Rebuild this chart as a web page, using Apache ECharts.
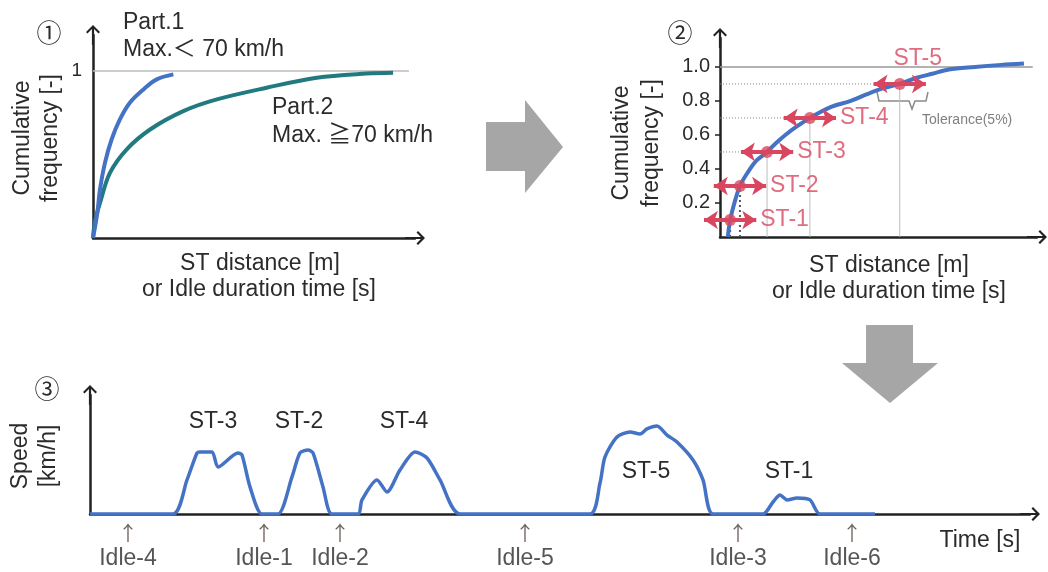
<!DOCTYPE html>
<html>
<head>
<meta charset="utf-8">
<script src="https://cdn.jsdelivr.net/npm/echarts@6/dist/echarts.min.js"></script>
<style>
html, body { margin: 0; padding: 0; background: #fff; }
#main { width: 1048px; height: 572px; }
</style>
</head>
<body>
<div id="main"></div>
<script>
// panel 1 : cumulative curves of the two parts
var part1Dist = [0, 1.3, 2.1, 3.6, 5.6, 8.1, 11.1, 15.2, 19.2, 24.2];
var part1Freq = [0, 0.15, 0.29, 0.45, 0.59, 0.71, 0.81, 0.89, 0.95, 0.98];
var part2Dist = [0, 0.6, 2.1, 5.1, 10.1, 17.2, 27.2, 37.3, 52.3, 67.4, 82.4, 90.4];
var part2Freq = [0, 0.1, 0.21, 0.39, 0.53, 0.65, 0.76, 0.83, 0.9, 0.96, 0.985, 0.99];

// panel 2 : cumulative curve and the picked ST samples
var cdfDist = [2.4, 2.7, 3.1, 4.4, 6.1, 8.5, 11.2, 14.4, 17, 20, 23.5, 27.5, 34, 40, 45, 50, 55, 60, 65, 70, 78, 86, 93];
var cdfFreq = [0, 0.05, 0.1, 0.2, 0.3, 0.38, 0.45, 0.5, 0.55, 0.6, 0.65, 0.7, 0.765, 0.8, 0.84, 0.875, 0.9, 0.935, 0.96, 0.985, 1.0, 1.012, 1.02];
var stNames = ['ST-1', 'ST-2', 'ST-3', 'ST-4', 'ST-5'];
var stDist = [3.1, 6.1, 14.4, 27.5, 55];
var stFreq = [0.1, 0.3, 0.5, 0.7, 0.9];
var tolerance = 8;
var freqTicks = [0.2, 0.4, 0.6, 0.8, 1.0];

// panel 3 : speed profile
var speedTime = [0, 16.6, 19.4, 21.4, 22, 24.4, 25.6, 29.6, 30.4, 32, 34.4,
    37.6, 40.4, 42, 43.6, 44.6, 46.6, 48.4,
    53.6, 54.4, 57.4, 59.4, 62, 65, 67.4, 70, 74,
    100, 102, 103, 105.4, 108, 110, 111.4, 113.4, 115.4, 117.4, 120.6, 122.6, 124.6,
    134.6, 136.6, 138, 139.4, 141.4, 144, 146, 157];
var speedKmh = [0, 0, 26.4, 47.3, 48.1, 48.1, 36.4, 47.3, 45.7, 21, 0,
    0, 28.7, 47.3, 49.6, 47.3, 21, 0,
    0, 10.9, 26.4, 17.1, 34.1, 48.1, 43.4, 26.4, 0,
    0, 24, 44.2, 59.7, 63.6, 62, 65.9, 68.2, 61.2, 55.8, 41.9, 26.4, 0,
    0, 9.3, 14.7, 10.9, 12.4, 10.9, 0, 0];
var idleNames = ['Idle-4', 'Idle-1', 'Idle-2', 'Idle-5', 'Idle-3', 'Idle-6'];
var idleTime = [7.6, 34.8, 50, 87, 129.6, 152.4];

var FONT = '"Liberation Sans", Arial, "Noto Sans CJK JP", sans-serif';
var CJK = '"Noto Sans CJK JP", sans-serif';
var BLUE = '#4472c4';
var TEAL = '#217a80';
var RED = '#d8475f';
var TXT = '#2b2b2b';
var FS = 23;
var ARROW = 'path://M7,0 L14,7 L12.5,8.5 L8.1,4.1 L8.1,20 L5.9,20 L5.9,4.1 L1.5,8.5 L0,7 Z';

function zip(xs, ys) {
    return xs.map(function (x, i) { return [x, ys[i]]; });
}

function axLine() {
    return {show: true, onZero: false, symbol: ['none', ARROW], symbolSize: [14, 20],
        lineStyle: {color: '#222', width: 2.5}};
}

function plainAxis(idx, min, max) {
    return {type: 'value', gridIndex: idx, min: min, max: max,
        axisLine: axLine(), axisTick: {show: false}, axisLabel: {show: false},
        splitLine: {show: false}};
}

function txt(text, x, y, opt) {
    opt = opt || {};
    return {type: 'text', x: x, y: y, rotation: opt.rot || 0, silent: true,
        style: {text: text, fill: opt.color || TXT, fontSize: opt.size || FS,
            fontFamily: opt.font || FONT, align: opt.align || 'center',
            verticalAlign: 'middle', lineHeight: opt.lh || 27}};
}

var mychart = echarts.init(document.getElementById('main'));

var yAxis1 = plainAxis(0, 0, 1.216);
yAxis1.axisLabel = {show: true, customValues: [1], fontSize: 19, color: TXT,
    fontFamily: FONT, margin: 11, padding: [0, 0, 12, 0]};

var yAxis2 = plainAxis(1, 0, 1.17);
yAxis2.axisLabel = {show: true, customValues: freqTicks, fontSize: 20, color: TXT,
    fontFamily: FONT, margin: 10, formatter: function (v) { return v.toFixed(1); }};
yAxis2.axisTick = {show: true, customValues: freqTicks, length: 5,
    lineStyle: {color: '#222', width: 1.5}};

var series = [];

// panel 1
series.push({type: 'line', xAxisIndex: 0, yAxisIndex: 0, symbol: 'none', silent: true,
    data: [[0, 1], [95.2, 1]], lineStyle: {color: '#bdbdbd', width: 1.5}});
series.push({type: 'line', xAxisIndex: 0, yAxisIndex: 0, symbol: 'none', smooth: 0.35,
    data: zip(part2Dist, part2Freq), lineStyle: {color: TEAL, width: 4}});
series.push({type: 'line', xAxisIndex: 0, yAxisIndex: 0, symbol: 'none', smooth: 0.35,
    data: zip(part1Dist, part1Freq), lineStyle: {color: BLUE, width: 4}});

// panel 2 helper lines
series.push({type: 'line', xAxisIndex: 1, yAxisIndex: 1, symbol: 'none', silent: true,
    data: [[0, 1], [95.7, 1]], lineStyle: {color: '#999', width: 1.5}});
stDist.forEach(function (d, i) {
    var dotted = i < 2;
    series.push({type: 'line', xAxisIndex: 1, yAxisIndex: 1, symbol: 'none', silent: true,
        data: [[d, 0], [d, stFreq[i]]],
        lineStyle: dotted ? {color: '#555', width: 2, type: [2, 3]} : {color: '#bdbdbd', width: 1}});
    if (d - tolerance > 0) {
        series.push({type: 'line', xAxisIndex: 1, yAxisIndex: 1, symbol: 'none', silent: true,
            data: [[0, stFreq[i]], [d - tolerance, stFreq[i]]],
            lineStyle: {color: '#888', width: 1, type: [1, 2]}});
    }
});
series.push({type: 'line', xAxisIndex: 1, yAxisIndex: 1, symbol: 'none', smooth: 0.35,
    data: zip(cdfDist, cdfFreq), lineStyle: {color: BLUE, width: 4}});
// tolerance arrows
series.push({type: 'lines', coordinateSystem: 'cartesian2d', xAxisIndex: 1, yAxisIndex: 1,
    clip: false, silent: true, z: 4, symbol: ['arrow', 'arrow'], symbolSize: 14,
    lineStyle: {color: RED, width: 4, opacity: 1},
    data: stDist.map(function (d, i) {
        return {coords: [[d - tolerance, stFreq[i]], [d + tolerance, stFreq[i]]]};
    })});
series.push({type: 'scatter', xAxisIndex: 1, yAxisIndex: 1, symbolSize: 12, z: 5,
    itemStyle: {color: RED}, data: zip(stDist, stFreq)});
series.push({type: 'scatter', xAxisIndex: 1, yAxisIndex: 1, symbolSize: 0, z: 6,
    data: stNames.map(function (n, i) {
        var last = i === stNames.length - 1;
        return {name: n,
            value: last ? [stDist[i], stFreq[i]] : [stDist[i] + tolerance, stFreq[i]],
            label: last ? {position: 'top', distance: 14, offset: [18, 0]}
                        : {position: 'right', distance: 4}};
    }),
    label: {show: true, formatter: '{b}', color: RED, fontSize: FS, fontFamily: FONT}});

// panel 3
series.push({type: 'line', xAxisIndex: 2, yAxisIndex: 2, symbol: 'none', smooth: 0.25,
    data: zip(speedTime, speedKmh), lineStyle: {color: BLUE, width: 3.5}});
series.push({type: 'scatter', xAxisIndex: 2, yAxisIndex: 2, symbolSize: 0,
    data: idleNames.map(function (n, i) { return {name: n, value: [idleTime[i], 0]}; }),
    label: {show: true, position: 'bottom', distance: 7, formatter: '{a|↑}\n{b|{b}}',
        rich: {a: {fontSize: 20, color: '#4a3c34', lineHeight: 24, fontFamily: CJK},
               b: {fontSize: FS, color: TXT, lineHeight: 28, fontFamily: FONT}}}});

var option = {
    animation: false,
    backgroundColor: '#fff',
    grid: [
        {left: 93, top: 35, width: 322, height: 203},
        {left: 720, top: 38, width: 317, height: 199},
        {left: 90, top: 395, width: 940, height: 119}
    ],
    xAxis: [plainAxis(0, 0, 97), plainAxis(1, 0, 97), plainAxis(2, 0, 188)],
    yAxis: [yAxis1, yAxis2, plainAxis(2, 0, 92.2)],
    series: series,
    graphic: [
        // big grey arrows
        {type: 'polygon', silent: true, style: {fill: '#a6a6a6'},
            shape: {points: [[486, 122], [525, 122], [525, 100], [563, 147], [525, 193], [525, 171], [486, 171]]}},
        {type: 'polygon', silent: true, style: {fill: '#a6a6a6'},
            shape: {points: [[866, 325], [913, 325], [913, 363], [938, 363], [890, 403], [842, 363], [866, 363]]}},
        // tolerance bracket
        {type: 'polyline', silent: true, style: {stroke: '#8a8a8a', lineWidth: 1.5, fill: null},
            shape: {points: [[877, 92], [879, 101], [909, 101], [912, 109], [915, 101], [926, 101], [928, 92]]}},
        txt('Tolerance(5%)', 922, 120, {size: 14, color: '#808080', align: 'left'}),
        // panel numbers
        txt('①', 49, 32, {font: CJK, size: 25}),
        txt('②', 680, 32, {font: CJK, size: 25}),
        txt('③', 47, 388, {font: CJK, size: 25}),
        // panel 1 texts
        txt('Part.1', 123, 23, {align: 'left'}),
        txt('Max.＜ 70 km/h', 123, 50, {align: 'left'}),
        txt('Part.2', 272, 108, {align: 'left'}),
        txt('Max. ≧70 km/h', 272, 136, {align: 'left'}),
        txt('Cumulative\nfrequency [-]', 37, 138, {rot: Math.PI / 2, lh: 28}),
        txt('ST distance [m]', 260, 264),
        txt('or Idle duration time [s]', 259, 290),
        // panel 2 texts
        txt('Cumulative\nfrequency [-]', 637, 143, {rot: Math.PI / 2, lh: 30}),
        txt('ST distance [m]', 889, 266),
        txt('or Idle duration time [s]', 889, 292),
        // panel 3 texts
        txt('Speed\n[km/h]', 35, 456, {rot: Math.PI / 2, lh: 28}),
        txt('ST-3', 213, 422),
        txt('ST-2', 299, 422),
        txt('ST-4', 404, 422),
        txt('ST-5', 646, 472),
        txt('ST-1', 789, 472),
        txt('Time [s]', 980, 541)
    ]
};

mychart.setOption(option);
</script>
</body>
</html>
